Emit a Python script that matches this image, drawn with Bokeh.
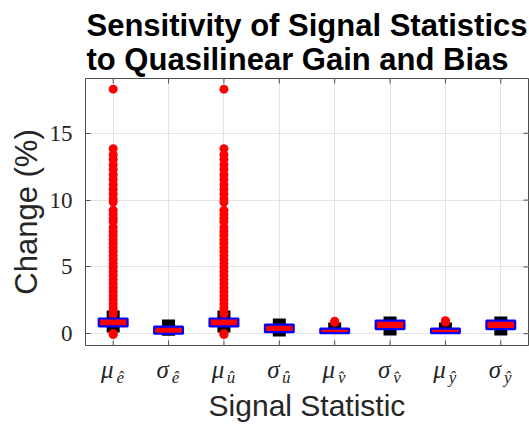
from bokeh.plotting import figure
from bokeh.models import FixedTicker, LinearAxis, Range1d
from bokeh.embed import file_html
from bokeh.resources import INLINE

# Signal statistics along the horizontal axis: symbol with a hatted subscript
stat_symbol = ["μ", "σ", "μ", "σ", "μ", "σ", "μ", "σ"]
stat_subscript = ["ê", "ê", "û", "û", "v\u0302", "v\u0302", "ŷ", "ŷ"]
stat_pos = [1, 2, 3, 4, 5, 6, 7, 8]

# Box-plot summary of the percent change for each statistic
q1 = [0.55, 0.00, 0.55, 0.12, 0.05, 0.35, 0.05, 0.35]
q3 = [1.14, 0.53, 1.14, 0.68, 0.38, 0.98, 0.38, 0.98]
whisker_lo = [0.10, -0.15, 0.10, -0.20, 0.00, -0.13, 0.00, -0.13]
whisker_hi = [1.74, 1.07, 1.74, 1.14, 0.85, 1.29, 0.85, 1.29]

# Outlying percent changes
outliers_mu_e = [18.30, 13.85, 13.40, 13.05, 12.65, 12.30, 11.90, 11.55, 11.15,
                 10.80, 10.45, 10.10, 9.85, 9.25, 8.95, 8.65, 8.40, 7.95, 7.65,
                 7.35, 7.05, 6.75, 6.45, 6.15, 5.85, 5.55, 5.25, 4.95, 4.65,
                 4.35, 4.05, 3.75, 3.45, 3.15, 2.85, 2.55, 2.25, 1.95, 1.70,
                 1.45, 0.02, -0.06]
outliers_mu_u = [18.30, 13.85, 13.40, 13.05, 12.65, 12.30, 11.90, 11.55, 11.15,
                 10.80, 10.45, 10.10, 9.85, 9.25, 8.95, 8.65, 8.40, 7.95, 7.65,
                 7.35, 7.05, 6.75, 6.45, 6.15, 5.85, 5.55, 5.25, 4.95, 4.65,
                 4.35, 4.05, 3.75, 3.45, 3.15, 2.85, 2.55, 2.25, 1.95, 1.70,
                 1.45, 0.02, -0.06]
outliers_mu_v = [0.93, 0.89, 0.86]
outliers_mu_y = [0.97, 0.92, 0.88]

y_ticks = [0, 5, 10, 15]

title_lines = ["Sensitivity of Signal Statistics", "to Quasilinear Gain and Bias"]

X_MIN, X_MAX = 0.5, 8.5
Y_MIN, Y_MAX = -0.88, 19.1

FRAME_W, FRAME_H = 443, 266.5      # plot-area size in pixels
TICK_PX = 5                        # inward tick length

AXIS_COLOR = "#4d4d4d"
TEXT_COLOR = "#262626"

p = figure(
    width=529, height=429,
    x_range=Range1d(X_MIN, X_MAX), y_range=Range1d(Y_MIN, Y_MAX),
    output_backend="svg", toolbar_location=None, x_axis_location=None,
    min_border_left=85, min_border_right=1, min_border_top=78, min_border_bottom=84,
    background_fill_color="white", border_fill_color="white",
)
p.outline_line_color = AXIS_COLOR
p.outline_line_width = 1

# two-line title
p.title.text = "\n".join(title_lines)
p.title.align = "center"
p.title.offset = -3
p.title.text_font = "Liberation Sans"
p.title.text_font_style = "bold"
p.title.text_font_size = "31px"
p.title.text_color = "black"
p.title.text_line_height = 0.96
p.title.standoff = 3

# grid
p.xgrid.ticker = FixedTicker(ticks=stat_pos)
p.ygrid.ticker = FixedTicker(ticks=y_ticks)
for g in (p.xgrid[0], p.ygrid[0]):
    g.grid_line_color = "#e3e3e3"
    g.grid_line_width = 1

# left axis
ya = p.yaxis[0]
ya.ticker = FixedTicker(ticks=y_ticks)
ya.major_label_text_font = "Liberation Serif"
ya.major_label_text_font_size = "23px"
ya.major_label_text_color = TEXT_COLOR
ya.major_label_standoff = 13
ya.major_tick_in = TICK_PX
ya.major_tick_out = 0
ya.minor_tick_line_color = None
ya.axis_line_color = None
ya.major_tick_line_color = AXIS_COLOR
ya.axis_label = "Change (%)"
ya.axis_label_text_font = "Liberation Sans"
ya.axis_label_text_font_style = "normal"
ya.axis_label_text_font_size = "31px"
ya.axis_label_text_color = TEXT_COLOR
ya.axis_label_standoff = 3

# category labels below the plot: symbol, then its subscript slightly right and lower
sym_shift = 6 / FRAME_W * (X_MAX - X_MIN)
sub_shift = 7 / FRAME_W * (X_MAX - X_MIN)
p.extra_x_ranges = {
    "sym": Range1d(X_MIN + sym_shift, X_MAX + sym_shift),
    "sub": Range1d(X_MIN - sub_shift, X_MAX - sub_shift),
}
sym_axis = LinearAxis(
    x_range_name="sym", ticker=FixedTicker(ticks=stat_pos),
    major_label_overrides={pos: s for pos, s in zip(stat_pos, stat_symbol)},
    major_label_text_font="Liberation Serif", major_label_text_font_style="italic",
    major_label_text_font_size="25px", major_label_text_color=TEXT_COLOR,
    major_label_standoff=10, major_tick_in=0, major_tick_out=0,
    major_tick_line_color=None, minor_tick_line_color=None, axis_line_color=None,
)
sub_axis = LinearAxis(
    x_range_name="sub", ticker=FixedTicker(ticks=stat_pos),
    major_label_overrides={pos: s for pos, s in zip(stat_pos, stat_subscript)},
    major_label_text_font="Liberation Serif", major_label_text_font_style="italic",
    major_label_text_font_size="17px", major_label_text_color=TEXT_COLOR,
    major_label_standoff=-18, major_tick_in=0, major_tick_out=0,
    major_tick_line_color=None, minor_tick_line_color=None, axis_line_color=None,
    axis_label="Signal Statistic", axis_label_text_font="Liberation Sans",
    axis_label_text_font_style="normal", axis_label_text_font_size="30px",
    axis_label_text_color=TEXT_COLOR, axis_label_standoff=-1,
)
p.add_layout(sym_axis, "below")
p.add_layout(sub_axis, "below")

# inward tick marks on the bottom, top and right edges
tick_dy = TICK_PX / FRAME_H * (Y_MAX - Y_MIN)
tick_dx = TICK_PX / FRAME_W * (X_MAX - X_MIN)
p.segment(x0=stat_pos, y0=[Y_MIN] * len(stat_pos), x1=stat_pos,
          y1=[Y_MIN + tick_dy] * len(stat_pos), line_color=AXIS_COLOR, line_width=1)
p.segment(x0=stat_pos, y0=[Y_MAX] * len(stat_pos), x1=stat_pos,
          y1=[Y_MAX - tick_dy] * len(stat_pos), line_color=AXIS_COLOR, line_width=1)
p.segment(x0=[X_MAX] * len(y_ticks), y0=y_ticks, x1=[X_MAX - tick_dx] * len(y_ticks),
          y1=y_ticks, line_color=AXIS_COLOR, line_width=1)

# whiskers
p.vbar(x=stat_pos, bottom=whisker_lo, top=q1, width=0.235,
       fill_color="black", line_color=None)
p.vbar(x=stat_pos, bottom=q3, top=whisker_hi, width=0.235,
       fill_color="black", line_color=None)

# outliers
out_x = ([stat_pos[0]] * len(outliers_mu_e) + [stat_pos[2]] * len(outliers_mu_u)
         + [stat_pos[4]] * len(outliers_mu_v) + [stat_pos[6]] * len(outliers_mu_y))
out_y = outliers_mu_e + outliers_mu_u + outliers_mu_v + outliers_mu_y
p.scatter(x=out_x, y=out_y, marker="circle", size=9,
          fill_color="#ff0000", line_color=None)

# boxes
p.vbar(x=stat_pos, bottom=q1, top=q3, width=0.52,
       fill_color="#ff0000", line_color="#0000ff", line_width=2.2)

open("out.html", "w").write(file_html(p, INLINE))
